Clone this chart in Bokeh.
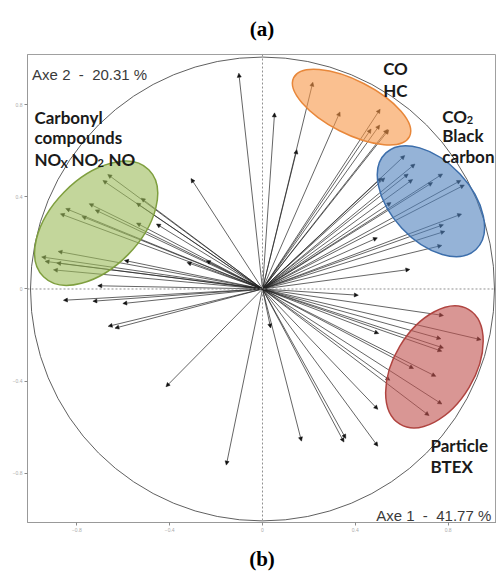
import numpy as np
from bokeh.plotting import figure
from bokeh.models import (Arrow, NormalHead, ColumnDataSource, Span, Label,
                          FixedTicker)
from bokeh.embed import file_html
from bokeh.resources import INLINE

# ---- data: variable loadings on axes 1 and 2 ----
load_x = [-0.102, -0.308, -0.667, -0.688, -0.523, -0.543, -0.747, -0.721, -0.848, -0.871,
          -0.778, -0.543, -0.457, -0.881, -0.595, -0.242, -0.325, -0.952, -0.937, -0.887,
          -0.901, -0.710, -0.858, -0.731, -0.602, -0.665, -0.636, -0.416, -0.156,
          0.052, 0.148, 0.217, 0.334, 0.507, 0.505, 0.468, 0.539, 0.544,
          0.613, 0.657, 0.513, 0.527, 0.628, 0.647, 0.776, 0.733, 0.855, 0.870,
          0.554, 0.858, 0.780, 0.786, 0.495, 0.773, 0.635,
          0.413, 0.780, 0.942, 0.769, 0.780, 0.773, 0.501, 0.035, 0.651, 0.747,
          0.549, 0.773, 0.718, 0.497, 0.168, 0.351, 0.359, 0.497]
load_y = [0.936, 0.479, 0.497, 0.471, 0.394, 0.373, 0.370, 0.343, 0.349, 0.326,
          0.315, 0.286, 0.282, 0.163, 0.124, 0.123, 0.115, 0.139, 0.120, 0.113,
          0.083, 0.014, -0.049, -0.053, -0.063, -0.162, -0.170, -0.424, -0.764,
          0.764, 0.604, 0.897, 0.768, 0.780, 0.711, 0.694, 0.692, 0.690,
          0.579, 0.542, 0.482, 0.482, 0.499, 0.475, 0.499, 0.462, 0.471, 0.451,
          0.375, 0.325, 0.279, 0.250, 0.222, 0.189, 0.085,
          -0.027, -0.115, -0.220, -0.216, -0.256, -0.270, -0.193, -0.169, -0.345, -0.379,
          -0.396, -0.499, -0.549, -0.522, -0.660, -0.664, -0.648, -0.682]

# ---- groups (ellipses) ----
group_names = ["Carbonyl", "CO_HC", "CO2_BC", "Particle"]
group_cx = [-0.717, 0.384, 0.726, 0.741]
group_cy = [0.285, 0.789, 0.381, -0.338]
group_w = [0.647, 0.560, 0.569, 0.576]
group_h = [0.388, 0.230, 0.345, 0.350]
group_angle_deg = [45.5, -27.0, -47.0, 59.0]
group_color = ["#9BBB59", "#F79646", "#4F81BD", "#C0504D"]
group_line = ["#7F9F3F", "#E8873A", "#3C6EAB", "#B04440"]

ticks = [-0.8, -0.4, 0, 0.4, 0.8]
NB = "\u00a0"
axe1_label = "Axe 1" + NB + " -" + NB + " 41.77 %"
axe2_label = "Axe 2" + NB + " -" + NB + " 20.31 %"
panel_top = "(a)"
panel_bottom = "(b)"

p = figure(width=496, height=573, x_range=(-1.0129, 1.0086), y_range=(-1.0129, 1.0172),
           output_backend="svg", toolbar_location=None,
           min_border_left=27, min_border_right=0, min_border_top=53, min_border_bottom=49)
p.background_fill_color = "white"
p.border_fill_color = "white"
p.outline_line_color = "#a0a0a0"
p.outline_line_width = 1
p.xgrid.visible = False
p.ygrid.visible = False

for ax in (p.xaxis[0], p.yaxis[0]):
    ax.ticker = FixedTicker(ticks=ticks)
    ax.minor_tick_line_color = None
    ax.major_tick_in = 0
    ax.major_tick_out = 3
    ax.major_tick_line_color = "#888888"
    ax.axis_line_color = "#999999"
    ax.major_label_text_font_size = "5px"
    ax.major_label_text_color = "#aaaaaa"
    ax.major_label_standoff = 2

# panel letters
p.title.text = panel_top
p.title.align = "center"
p.title.text_font = "Liberation Serif"
p.title.text_font_size = "21px"
p.title.text_font_style = "bold"
p.title.text_color = "black"
p.title.standoff = 28

xa = p.xaxis[0]
xa.axis_label = panel_bottom
xa.axis_label_text_font = "Liberation Serif"
xa.axis_label_text_font_size = "21px"
xa.axis_label_text_font_style = "bold"
xa.axis_label_text_color = "black"
xa.axis_label_standoff = 12

# zero lines
p.add_layout(Span(location=0, dimension="width", line_color="#909090", line_dash="2 2", line_width=1))
p.add_layout(Span(location=0, dimension="height", line_color="#909090", line_dash="2 2", line_width=1))

# correlation circle
p.circle(x=[0], y=[0], radius=1.0, fill_color=None, line_color="#606060", line_width=1)

# arrows
src = ColumnDataSource(dict(x0=[0.0] * len(load_x), y0=[0.0] * len(load_y), x1=load_x, y1=load_y))
p.add_layout(Arrow(end=NormalHead(size=4, fill_color="#111111", line_color="#111111", line_width=0.5),
                   x_start="x0", y_start="y0", x_end="x1", y_end="y1", source=src,
                   line_color="#222222", line_width=0.7, level="underlay"))

# ellipses
p.ellipse(x=group_cx, y=group_cy, width=group_w, height=group_h,
          angle=[np.deg2rad(a) for a in group_angle_deg],
          fill_color=group_color, fill_alpha=0.6, line_color=group_line, line_width=1.5)

def lab(x, y, t, size="17px", bold=True, color="#1a1a1a", font="Lato", xo=0, yo=0, align="left"):
    p.add_layout(Label(x=x, y=y, text=t, text_font=font, text_font_size=size,
                       text_font_style="bold" if bold else "normal", text_color=color,
                       text_baseline="alphabetic", text_align=align, x_offset=xo, y_offset=yo))

lab(-0.993, 0.931, axe2_label, size="15px", bold=False, color="#3a3a3a", font="Liberation Sans")
lab(0.490, -0.983, axe1_label, size="15px", bold=False, color="#3a3a3a", font="Liberation Sans")

lab(-0.983, 0.746, "Carbonyl")
lab(-0.983, 0.656, "compounds")
lab(-0.983, 0.563, "NO")
lab(-0.983, 0.563, "X", size="11px", xo=26, yo=-4)
lab(-0.983, 0.563, "NO", xo=37)
lab(-0.983, 0.563, "2", size="11px", xo=63, yo=-4)
lab(-0.983, 0.563, "NO", xo=74)

lab(0.520, 0.956, "CO")
lab(0.520, 0.861, "HC")

lab(0.775, 0.750, "CO")
lab(0.775, 0.750, "2", size="11px", xo=24.5, yo=-4)
lab(0.775, 0.664, "Black")
lab(0.775, 0.573, "carbon")

lab(0.724, -0.677, "Particle")
lab(0.724, -0.769, "BTEX")

open("out.html", "w").write(file_html(p, INLINE))
